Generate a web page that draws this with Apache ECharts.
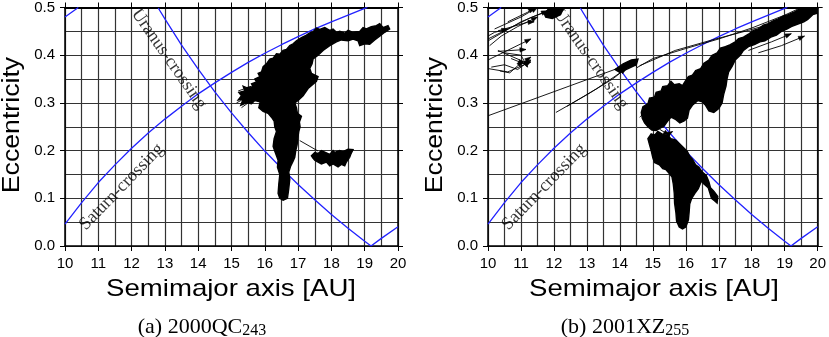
<!DOCTYPE html>
<html><head><meta charset="utf-8">
<script src="https://cdn.jsdelivr.net/npm/echarts@6/dist/echarts.min.js"></script>
<style>html,body{margin:0;padding:0;background:#fff}#c{width:829px;height:337px}</style>
</head><body><div id="c"></div>
<script>
// ---- axis ticks ----
const aTicks = [10, 11, 12, 13, 14, 15, 16, 17, 18, 19, 20];
const eTicks = [0.0, 0.1, 0.2, 0.3, 0.4, 0.5];

// ---- crossing curves (a [AU], e) ----
const saturnCrossing = [[10,0.046],[10.5,0.091],[11,0.133],[11.5,0.170],[12,0.205],[12.5,0.237],[13,0.266],[13.5,0.293],[14,0.319],[14.5,0.342],[15,0.364],[15.5,0.385],[16,0.404],[16.5,0.422],[17,0.439],[17.5,0.455],[18,0.470],[18.5,0.484],[19,0.498],[19.08,0.5]];
const uranusCrossing = [[12.8,0.499],[13,0.476],[13.5,0.421],[14,0.371],[14.5,0.323],[15,0.279],[15.5,0.238],[16,0.199],[16.5,0.163],[17,0.129],[17.5,0.097],[18,0.066],[18.5,0.037],[19,0.010],[19.19,0.0]];
const uranusPeri = [[19.19,0.0],[19.5,0.016],[20,0.0405]];
const jupiterCrossing = [[10,0.48],[10.2,0.49],[10.4,0.5]];

// ---- curve labels ----
const curveLabels = ['Uranus-crossing', 'Saturn-crossing'];
const curveLabelA = [13.12, 11.7];
const curveLabelE = [0.392, 0.124];

// ---- captions ----
const captionPrefix = ['(a)', '(b)'];
const captionName = ['2000QC', '2001XZ'];
const captionSub = ['243', '255'];

// ---- (a) 2000QC243 trajectory ----
const qcBody = [[19.7,0.462],[19.55,0.458],[19.45,0.466],[19.35,0.462],[19.2,0.46],[19.05,0.455],[18.95,0.458],[18.85,0.45],[18.65,0.448],[18.5,0.452],[18.4,0.446],[18.25,0.45],[18.15,0.448],[18.05,0.455],[17.95,0.452],[17.8,0.458],[17.65,0.454],[17.55,0.457],[17.45,0.449],[17.35,0.447],[17.25,0.442],[17.1,0.437],[16.95,0.43],[16.85,0.424],[16.75,0.42],[16.65,0.412],[16.55,0.41],[16.45,0.402],[16.35,0.403],[16.25,0.394],[16.15,0.392],[16.05,0.382],[15.95,0.376],[15.9,0.365],[15.8,0.362],[15.85,0.355],[15.7,0.35],[15.75,0.344],[15.6,0.34],[15.65,0.334],[15.45,0.332],[15.35,0.335],[15.4,0.325],[15.22,0.322],[15.3,0.315],[15.2,0.306],[15.35,0.308],[15.28,0.295],[15.45,0.3],[15.6,0.298],[15.7,0.305],[15.86,0.302],[15.82,0.29],[15.95,0.282],[16.1,0.278],[16.2,0.27],[16.28,0.262],[16.3,0.25],[16.35,0.24],[16.28,0.225],[16.25,0.209],[16.32,0.195],[16.4,0.18],[16.38,0.165],[16.45,0.15],[16.42,0.13],[16.4,0.11],[16.45,0.1],[16.55,0.096],[16.68,0.1],[16.72,0.12],[16.75,0.14],[16.72,0.155],[16.78,0.168],[16.85,0.178],[16.9,0.186],[16.93,0.2],[16.97,0.212],[17.0,0.23],[17.02,0.24],[17.06,0.25],[17.04,0.26],[17.1,0.272],[16.98,0.278],[16.95,0.29],[16.9,0.3],[17.0,0.305],[17.15,0.315],[17.3,0.33],[17.55,0.345],[17.6,0.355],[17.4,0.362],[17.35,0.372],[17.42,0.382],[17.45,0.392],[17.6,0.4],[17.75,0.41],[17.95,0.42],[18.15,0.428],[18.3,0.432],[18.5,0.43],[18.65,0.434],[18.8,0.43],[18.85,0.42],[19.0,0.424],[19.15,0.423],[19.3,0.432],[19.45,0.44],[19.6,0.448],[19.75,0.455]];
const qcSmall = [[17.4,0.189],[17.5,0.196],[17.6,0.194],[17.7,0.2],[17.8,0.197],[17.95,0.192],[18.05,0.2],[18.1,0.196],[18.25,0.2],[18.35,0.198],[18.5,0.203],[18.65,0.202],[18.58,0.192],[18.55,0.186],[18.45,0.176],[18.4,0.168],[18.3,0.171],[18.2,0.166],[18.05,0.172],[17.95,0.168],[17.85,0.176],[17.7,0.172],[17.6,0.176],[17.5,0.18],[17.45,0.184]];
const qcLines = [
  [[17.05,0.221],[17.6,0.199]],
  [[15.2,0.325],[15.6,0.335]],
  [[15.15,0.3],[15.55,0.315]],
  [[15.3,0.29],[15.6,0.305]]
];

// ---- (b) 2001XZ255 trajectory ----
const xzBand = [[14.65,0.28],[14.7,0.292],[14.85,0.298],[14.9,0.31],[15.05,0.312],[15.1,0.322],[15.25,0.325],[15.3,0.334],[15.45,0.336],[15.55,0.345],[15.65,0.338],[15.8,0.34],[15.9,0.336],[15.98,0.345],[16.08,0.355],[16.2,0.358],[16.3,0.368],[16.45,0.372],[16.55,0.383],[16.7,0.39],[16.8,0.4],[16.95,0.405],[17.05,0.415],[17.2,0.418],[17.35,0.422],[17.5,0.428],[17.6,0.435],[17.75,0.438],[17.9,0.444],[18.05,0.452],[18.2,0.455],[18.35,0.463],[18.5,0.466],[18.65,0.472],[18.8,0.476],[18.95,0.482],[19.1,0.485],[19.28,0.49],[19.45,0.497],[19.6,0.5],[20,0.5],[20,0.488],[19.85,0.485],[19.7,0.475],[19.58,0.47],[19.4,0.465],[19.2,0.46],[19.08,0.455],[18.9,0.45],[18.75,0.442],[18.58,0.438],[18.4,0.43],[18.25,0.428],[18.08,0.422],[17.9,0.418],[17.75,0.41],[17.65,0.4],[17.5,0.39],[17.4,0.376],[17.3,0.365],[17.25,0.35],[17.22,0.335],[17.15,0.318],[17.1,0.3],[17.0,0.288],[16.85,0.28],[16.7,0.283],[16.6,0.295],[16.5,0.302],[16.37,0.305],[16.2,0.295],[16.1,0.285],[16.05,0.268],[15.95,0.262],[15.82,0.258],[15.7,0.265],[15.55,0.27],[15.45,0.262],[15.35,0.252],[15.25,0.248],[15.1,0.242],[14.97,0.243],[14.85,0.25],[14.75,0.258],[14.68,0.268]];
const xzColumn = [[14.85,0.225],[14.95,0.235],[15.05,0.232],[15.15,0.24],[15.3,0.234],[15.45,0.232],[15.55,0.225],[15.7,0.222],[15.85,0.212],[15.95,0.205],[16.05,0.198],[16.12,0.188],[16.2,0.182],[16.3,0.17],[16.4,0.165],[16.5,0.155],[16.62,0.148],[16.7,0.135],[16.75,0.122],[16.85,0.115],[16.97,0.104],[16.95,0.09],[16.87,0.095],[16.78,0.1],[16.68,0.122],[16.55,0.13],[16.47,0.136],[16.38,0.12],[16.27,0.11],[16.18,0.1],[16.12,0.088],[16.1,0.07],[16.08,0.055],[16.0,0.04],[15.9,0.036],[15.8,0.04],[15.72,0.052],[15.7,0.07],[15.66,0.09],[15.65,0.11],[15.62,0.13],[15.58,0.145],[15.5,0.152],[15.4,0.16],[15.3,0.162],[15.2,0.17],[15.05,0.175],[15.0,0.185],[14.95,0.2],[14.9,0.212]];
const xzKnot = [[13.85,0.37],[14.1,0.382],[14.35,0.39],[14.55,0.392],[14.5,0.38],[14.25,0.372],[14.0,0.364]];
const xzTop = [[11.7,0.488],[11.9,0.5],[12.3,0.5],[12.2,0.485],[11.95,0.477],[11.75,0.48]];
const xzLines = [
  [[10,0.273],[14.0,0.374],[14.4,0.39],[14.52,0.374],[15.0,0.393],[16.0,0.414],[17.0,0.434],[18.0,0.457],[19.0,0.484],[19.5,0.5]],
  [[14.6,0.378],[15.68,0.41],[16.8,0.432],[17.9,0.452],[19.3,0.48],[19.8,0.493]],
  [[12.06,0.28],[13.0,0.317],[13.8,0.351],[14.3,0.379],[14.45,0.389]],
  [[12.4,0.293],[13.3,0.33],[14.2,0.372]],
  [[10,0.434],[11.3,0.479],[12.0,0.497]],
  [[10,0.43],[11.0,0.47],[11.8,0.493]],
  [[10.05,0.42],[10.4,0.44],[10.9,0.46],[11.5,0.48]],
  [[10.3,0.451],[11.2,0.469],[11.4,0.47]],
  [[10,0.44],[10.2,0.448],[10.6,0.455]],
  [[10.2,0.455],[11,0.48],[11.5,0.5]],
  [[10.6,0.47],[11.2,0.49],[11.4,0.5]],
  [[10.3,0.408],[11.15,0.412]],
  [[10,0.39],[11.3,0.434]],
  [[10.3,0.41],[11.1,0.386],[11.3,0.396]],
  [[10,0.372],[10.6,0.365],[11.3,0.386]],
  [[10.7,0.393],[11.1,0.382]],
  [[10.36,0.367],[10.66,0.363],[11.06,0.3875]],
  [[10.1,0.375],[10.5,0.38],[10.9,0.37],[11.3,0.39]],
  [[10.5,0.405],[11.0,0.4],[11.2,0.375]],
  [[18.2,0.405],[18.9,0.42],[19.6,0.44]],
  [[17.9,0.41],[18.6,0.428],[19.2,0.445]],
  [[15.0,0.235],[15.3,0.228],[15.6,0.24]],
  [[15.2,0.245],[15.5,0.232]],
  [[14.6,0.27],[14.9,0.29]]
];

const qcShapes = [qcBody, qcSmall].map(p => ({fill: true, pts: p})).concat(qcLines.map(p => ({fill: false, arrow: false, pts: p})));
const xzShapes = [xzBand, xzColumn, xzKnot, xzTop].map(p => ({fill: true, pts: p})).concat(xzLines.map((p, i) => ({fill: false, arrow: i > 0, pts: p})));

const chart = echarts.init(document.getElementById('c'), null, {renderer: 'canvas'});

const BLUE = '#2222ff';
const GRIDC = '#333';
const GRIDW = 1.2;
const sans = 'Liberation Sans';
const serif = 'Liberation Serif';

const grids = [
  {left: 65, top: 6, width: 333, height: 240},
  {left: 488, top: 6, width: 333, height: 240}
];

function xAxes(g) {
  const base = {gridIndex: g, type: 'value', min: aTicks[0], max: aTicks[aTicks.length - 1], interval: aTicks[1] - aTicks[0]};
  return [
    Object.assign({}, base, {
      position: 'bottom',
      axisLine: {show: true, onZero: false, lineStyle: {color: '#000', width: 1.5}},
      axisTick: {show: true, inside: false, length: 5, lineStyle: {color: '#000', width: 1}},
      axisLabel: {show: true, fontSize: 15, color: '#000', fontFamily: sans, margin: 10},
      splitLine: {show: true, lineStyle: {color: GRIDC, width: GRIDW}},
      minorTick: {show: false, splitNumber: 2},
      minorSplitLine: {show: true, lineStyle: {color: GRIDC, width: GRIDW}}
    }),
    Object.assign({}, base, {
      position: 'top',
      axisLine: {show: true, onZero: false, lineStyle: {color: '#000', width: 2}},
      axisTick: {show: true, inside: false, length: 5, lineStyle: {color: '#000', width: 1}},
      axisLabel: {show: false},
      splitLine: {show: false}
    })
  ];
}
function yAxes(g) {
  const base = {gridIndex: g, type: 'value', min: eTicks[0], max: eTicks[eTicks.length - 1], interval: 0.1};
  return [
    Object.assign({}, base, {
      position: 'left',
      axisLine: {show: true, onZero: false, lineStyle: {color: '#000', width: 1.5}},
      axisTick: {show: true, inside: false, length: 5, lineStyle: {color: '#000', width: 1}},
      axisLabel: {show: true, fontSize: 15, color: '#000', fontFamily: sans, margin: 10, formatter: v => v.toFixed(1)},
      splitLine: {show: true, lineStyle: {color: GRIDC, width: GRIDW}},
      minorTick: {show: false, splitNumber: 2},
      minorSplitLine: {show: true, lineStyle: {color: GRIDC, width: GRIDW}}
    }),
    Object.assign({}, base, {
      position: 'right',
      axisLine: {show: true, onZero: false, lineStyle: {color: '#000', width: 1.5}},
      axisTick: {show: true, inside: false, length: 5, lineStyle: {color: '#000', width: 1}},
      axisLabel: {show: false},
      splitLine: {show: false}
    })
  ];
}

function curveSeries(data, xi, yi) {
  return {type: 'line', xAxisIndex: xi, yAxisIndex: yi, data: data, showSymbol: false, symbol: 'none',
    lineStyle: {color: BLUE, width: 1.3}, clip: true, z: 2, silent: true, animation: false};
}
function shapeSeries(shapes, xi, yi) {
  return {
    type: 'custom', xAxisIndex: xi, yAxisIndex: yi, clip: true, z: 3, silent: true, animation: false,
    data: shapes.map(s => s.pts[0]),
    renderItem: function (params, api) {
      const s = shapes[params.dataIndex];
      const pts = s.pts.map(p => api.coord(p));
      if (s.fill) {
        return {type: 'polygon', shape: {points: pts}, style: {fill: '#000', stroke: '#000', lineWidth: 1.4, lineJoin: 'miter', miterLimit: 6}};
      }
      const children = [{type: 'polyline', shape: {points: pts}, style: {fill: null, stroke: '#000', lineWidth: 0.9}}];
      if (s.arrow) {
        const p1 = pts[pts.length - 1], p0 = pts[pts.length - 2];
        const dx = p1[0] - p0[0], dy = p1[1] - p0[1];
        const L = Math.sqrt(dx * dx + dy * dy) || 1;
        const ux = dx / L, uy = dy / L, h = 6, w = 2.2;
        children.push({type: 'polygon', shape: {points: [
          p1, [p1[0] - ux * h - uy * w, p1[1] - uy * h + ux * w], [p1[0] - ux * h + uy * w, p1[1] - uy * h - ux * w]
        ]}, style: {fill: '#000', stroke: '#000', lineWidth: 0.6}});
      }
      return {type: 'group', children: children};
    }
  };
}
function labelSeries(xi, yi) {
  const rot = [-55, 46];
  return {
    type: 'scatter', xAxisIndex: xi, yAxisIndex: yi, symbolSize: 0.1, z: 4, silent: true, animation: false,
    itemStyle: {color: 'rgba(0,0,0,0)'},
    data: curveLabels.map((t, i) => ({
      value: [curveLabelA[i], curveLabelE[i]],
      label: {show: true, position: 'inside', formatter: t, rotate: rot[i], fontFamily: serif, fontSize: 18, color: '#000'}
    }))
  };
}

const series = [];
[[0, 0, qcShapes], [2, 2, xzShapes]].forEach(([xi, yi, shapes]) => {
  series.push(curveSeries(saturnCrossing, xi, yi));
  series.push(curveSeries(uranusCrossing, xi, yi));
  series.push(curveSeries(uranusPeri, xi, yi));
  series.push(curveSeries(jupiterCrossing, xi, yi));
  series.push(shapeSeries(shapes, xi, yi));
  series.push(labelSeries(xi, yi));
});

const graphic = [];
[0, 1].forEach(i => {
  const off = i * 423;
  graphic.push({type: 'text', x: 13 + off, y: 125, rotation: Math.PI / 2, scaleX: 1.16, z: 10,
    style: {text: 'Eccentricity', fontSize: 23, fontFamily: sans, fill: '#000', align: 'center', verticalAlign: 'middle', textAlign: 'center', textVerticalAlign: 'middle'}});
  graphic.push({type: 'text', x: 231 + off, y: 289, scaleX: 1.15, z: 10,
    style: {text: 'Semimajor axis [AU]', fontSize: 24, fontFamily: sans, fill: '#000', align: 'center', verticalAlign: 'middle', textAlign: 'center', textVerticalAlign: 'middle'}});
  graphic.push({type: 'text', x: 202 + off, y: 326, z: 10,
    style: {text: '{m|' + captionPrefix[i] + ' ' + captionName[i] + '}{s|' + captionSub[i] + '}',
      align: 'center', verticalAlign: 'middle', textAlign: 'center', textVerticalAlign: 'middle',
      rich: {
        m: {fontSize: 22, fontFamily: serif, fill: '#000', color: '#000', verticalAlign: 'bottom', lineHeight: 25},
        s: {fontSize: 16, fontFamily: serif, fill: '#000', color: '#000', verticalAlign: 'bottom', lineHeight: 13}
      }}});
});

chart.setOption({
  animation: false,
  backgroundColor: '#fff',
  grid: grids,
  xAxis: xAxes(0).concat(xAxes(1)),
  yAxis: yAxes(0).concat(yAxes(1)),
  series: series,
  graphic: graphic
});
</script></body></html>
